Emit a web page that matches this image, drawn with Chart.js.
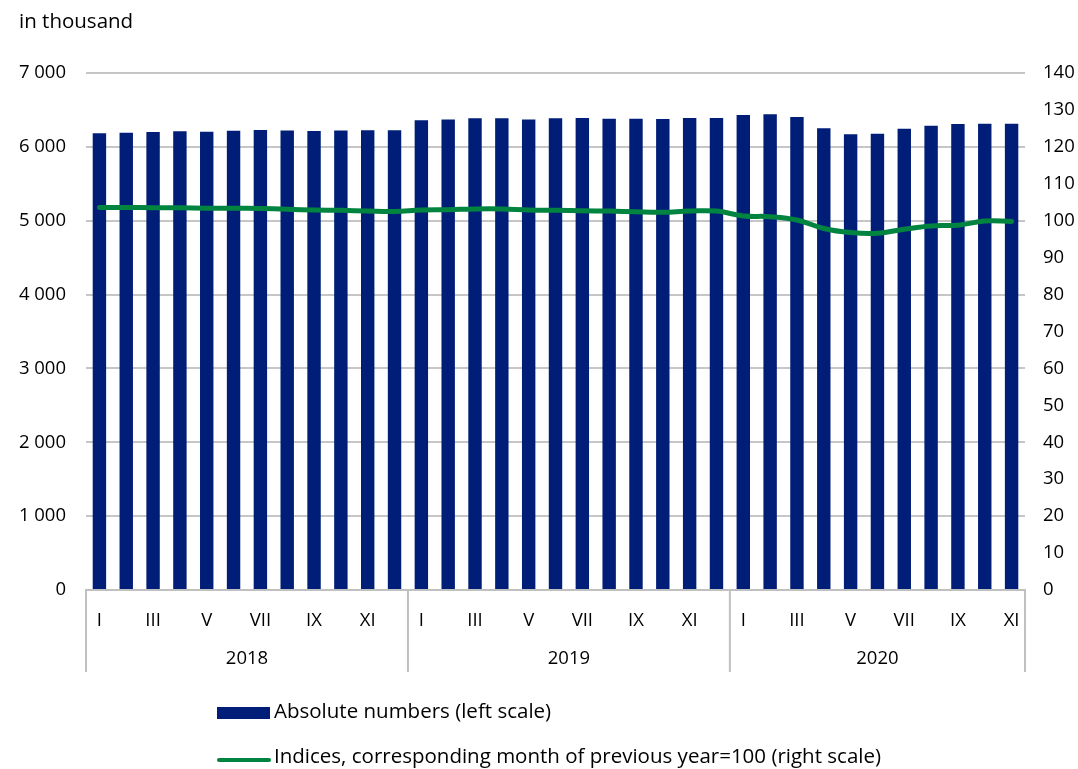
<!DOCTYPE html>
<html>
<head>
<meta charset="utf-8">
<script src="https://cdn.jsdelivr.net/npm/chart.js@4.4.1/dist/chart.umd.min.js"></script>
<style>
    html, body { margin: 0; padding: 0; background: #ffffff; }
    #wrap { width: 1078px; height: 769px; }
</style>
</head>
<body>
<div id="wrap"><canvas id="mainChart" width="1078" height="769"></canvas></div>
<script>
// Data
const years = ['2018', '2019', '2020'];
const monthNames = ['I', 'II', 'III', 'IV', 'V', 'VI', 'VII', 'VIII', 'IX', 'X', 'XI', 'XII'];

// Absolute numbers, in thousand (left scale)
const abs2018 = [6185, 6192, 6200, 6210, 6205, 6218, 6228, 6220, 6215, 6220, 6224, 6224];
const abs2019 = [6360, 6372, 6386, 6386, 6372, 6386, 6390, 6382, 6382, 6378, 6390, 6390];
const abs2020 = [6432, 6440, 6404, 6251, 6170, 6178, 6246, 6287, 6309, 6313, 6313];

// Indices, corresponding month of previous year = 100 (right scale)
const idx2018 = [103.6, 103.6, 103.5, 103.5, 103.4, 103.4, 103.3, 103.1, 102.9, 102.8, 102.6, 102.5];
const idx2019 = [102.9, 103.0, 103.2, 103.2, 102.9, 102.8, 102.7, 102.6, 102.4, 102.3, 102.6, 102.6];
const idx2020 = [101.3, 101.1, 100.2, 97.9, 96.8, 96.6, 97.7, 98.6, 98.8, 99.9, 99.8];

const monthsPerYear = [abs2018.length, abs2019.length, abs2020.length];

const NAVY = '#001e78';
const GREEN = '#00843f';
const GRID = '#c6c6c6';
const FONT = '"Open Sans", "Noto Sans", sans-serif';

// Build category labels (month of each bar)
let labels = [];
monthsPerYear.forEach(n => {
    for (let m = 0; m < n; m++) labels.push(monthNames[m]);
});
const absValues = abs2018.concat(abs2019, abs2020);
const idxValues = idx2018.concat(idx2019, idx2020);

function spaced(v) {
    return String(v).replace(/\B(?=(\d{3})+(?!\d))/g, ' ');
}

// Year groups under the month labels, plus legend and unit caption
const extrasPlugin = {
    id: 'extras',
    afterDraw(chart) {
        const ctx = chart.ctx;
        const x = chart.scales.x;
        const area = chart.chartArea;
        const half = (x.getPixelForValue(1) - x.getPixelForValue(0)) / 2;

        ctx.save();
        // separators
        ctx.strokeStyle = '#c0c0c0';
        ctx.lineWidth = 2;
        let start = 0;
        let bounds = [area.left];
        monthsPerYear.forEach(n => {
            start += n;
            bounds.push(start >= labels.length ? area.right : x.getPixelForValue(start) - half);
        });
        bounds.forEach(bx => {
            ctx.beginPath();
            ctx.moveTo(bx, area.bottom);
            ctx.lineTo(bx, 672);
            ctx.stroke();
        });

        // year labels
        ctx.fillStyle = '#000000';
        ctx.font = '18.5px ' + FONT;
        ctx.textAlign = 'center';
        ctx.textBaseline = 'middle';
        years.forEach((y, i) => {
            ctx.fillText(y, (bounds[i] + bounds[i + 1]) / 2, 659);
        });

        // unit caption
        ctx.textAlign = 'left';
        ctx.font = '20.5px ' + FONT;
        ctx.fillText('in thousand', 19, 22);

        // legend
        ctx.fillStyle = NAVY;
        ctx.fillRect(217, 707, 53, 12);
        ctx.fillStyle = '#000000';
        ctx.fillText('Absolute numbers (left scale)', 274, 712);

        ctx.strokeStyle = GREEN;
        ctx.lineWidth = 4;
        ctx.lineCap = 'round';
        ctx.beginPath();
        ctx.moveTo(219, 760);
        ctx.lineTo(269, 760);
        ctx.stroke();
        ctx.fillText('Indices, corresponding month of previous year=100 (right scale)', 274, 757);
        ctx.restore();
    }
};

const ctx = document.getElementById('mainChart').getContext('2d');
const mainChart = new Chart(ctx, {
    data: {
        labels: labels,
        datasets: [{
            type: 'line',
            label: 'Indices, corresponding month of previous year=100 (right scale)',
            data: idxValues,
            yAxisID: 'y1',
            borderColor: GREEN,
            borderWidth: 5,
            borderCapStyle: 'round',
            pointRadius: 0,
            tension: 0.4,
            order: 0,
        }, {
            type: 'bar',
            label: 'Absolute numbers (left scale)',
            data: absValues,
            yAxisID: 'y',
            backgroundColor: NAVY,
            categoryPercentage: 1,
            barPercentage: 0.5,
            order: 1,
        }],
    },
    options: {
        responsive: false,
        animation: false,
        layout: {
            padding: { top: 73, left: 0, right: 0, bottom: 0 },
        },
        scales: {
            x: {
                grid: { display: false },
                border: { display: true, color: '#c0c0c0', width: 2 },
                ticks: {
                    autoSkip: false,
                    maxRotation: 0,
                    padding: 12,
                    color: '#000000',
                    font: { family: FONT, size: 18.5 },
                    callback: (val, i) => (i % 12) % 2 === 0 ? labels[i] : '',
                },
                afterFit: (scale) => { scale.height = 179; },
            },
            y: {
                position: 'left',
                min: 0,
                max: 7000,
                grid: { color: GRID, lineWidth: 2, drawTicks: false },
                border: { display: false },
                ticks: {
                    stepSize: 1000,
                    padding: 20,
                    color: '#000000',
                    font: { family: FONT, size: 18.5 },
                    callback: (v) => spaced(v),
                },
                afterFit: (scale) => { scale.width = 86; },
            },
            y1: {
                position: 'right',
                min: 0,
                max: 140,
                grid: { display: false, drawTicks: false },
                border: { display: false },
                ticks: {
                    stepSize: 10,
                    padding: 18,
                    color: '#000000',
                    font: { family: FONT, size: 18.5 },
                },
                afterFit: (scale) => { scale.width = 53; },
            },
        },
        plugins: {
            legend: { display: false },
            tooltip: { enabled: false },
        },
    },
    plugins: [extrasPlugin],
});
</script>
</body>
</html>
